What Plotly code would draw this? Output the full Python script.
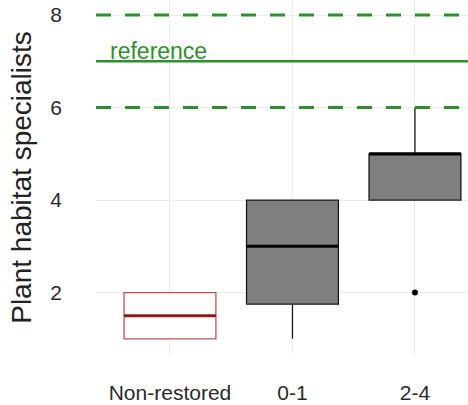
import plotly.graph_objects as go

categories = ["Non-restored", "0-1", "2-4"]
q1 = [1.0, 1.75, 4.0]
median = [1.5, 3.0, 5.0]
q3 = [2.0, 4.0, 5.0]
lower = [1.0, 1.0, 4.0]
upper = [2.0, 4.0, 6.0]
outlier_cat = [2]
outlier_val = [2.0]
ref_value = 7.0
ref_band = [6.0, 8.0]
y_ticks = [2, 4, 6, 8]

fills = ["#ffffff", "#7f7f7f", "#7f7f7f"]
edges = ["#c05050", "#1a1a1a", "#1a1a1a"]
med_colors = ["#8b1a1a", "#000000", "#000000"]
box_w = 0.75
green = "#2f8f2f"

fig = go.Figure()

for v in ref_band:
    fig.add_hline(y=v, line=dict(color=green, width=3, dash="15px,14px"), layer="above")
fig.add_hline(y=ref_value, line=dict(color=green, width=2.5), layer="above")

for i, c in enumerate(categories):
    fig.add_trace(go.Box(
        x=[i], q1=[q1[i]], median=[median[i]], q3=[q3[i]],
        lowerfence=[lower[i]], upperfence=[upper[i]],
        width=box_w, fillcolor=fills[i],
        line=dict(color=edges[i], width=1.3),
        whiskerwidth=0, boxpoints=False, showlegend=False, hoverinfo="skip",
    ))
    fig.add_trace(go.Scatter(
        x=[i - box_w / 2, i + box_w / 2], y=[median[i], median[i]],
        mode="lines", line=dict(color=med_colors[i], width=3),
        showlegend=False, hoverinfo="skip",
    ))

fig.add_trace(go.Scatter(
    x=outlier_cat, y=outlier_val, mode="markers",
    marker=dict(color="black", size=6), showlegend=False, hoverinfo="skip",
))

fig.add_annotation(
    x=-0.506, y=ref_value, text="reference", showarrow=False,
    xanchor="left", yanchor="bottom", yshift=-5,
    font=dict(family="Liberation Sans, Arial, sans-serif", size=23, color=green),
)

fig.update_layout(
    width=468, height=405,
    margin=dict(l=96, r=0, t=0, b=50, autoexpand=False),
    paper_bgcolor="white", plot_bgcolor="white",
    font=dict(family="Liberation Sans, Arial, sans-serif"),
    xaxis=dict(
        range=[-0.604, 2.433], tickvals=list(range(len(categories))), ticktext=categories,
        showgrid=True, gridcolor="#ececec", gridwidth=1, zeroline=False, showline=False,
        ticks="", ticklabelstandoff=23, automargin=False,
        tickfont=dict(size=21, color="#2a2a2a"),
    ),
    yaxis=dict(
        range=[0.65, 8.326], tickvals=y_ticks,
        showgrid=True, gridcolor="#ececec", gridwidth=1, zeroline=False, showline=False,
        ticks="", ticklabelstandoff=33, automargin=False,
        tickfont=dict(size=21, color="#2a2a2a"),
        title=dict(text="Plant habitat specialists", font=dict(size=28, color="#222222"), standoff=10),
    ),
)

fig.write_html(
    "out.html",
    config={"displayModeBar": False},
    post_script="document.body.style.margin='0';document.body.style.overflow='hidden';",
)
